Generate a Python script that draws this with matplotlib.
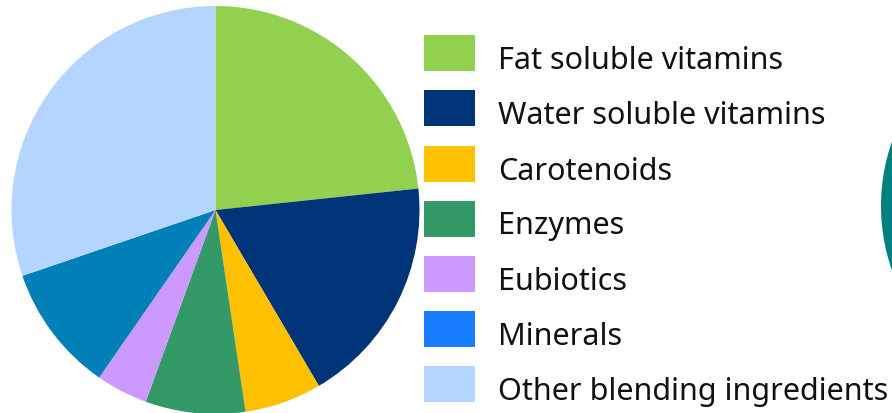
import matplotlib
matplotlib.use("Agg")
import matplotlib.pyplot as plt
from matplotlib.patches import Rectangle

categories = ["Fat soluble vitamins", "Water soluble vitamins", "Carotenoids",
              "Enzymes", "Eubiotics", "Minerals", "Other blending ingredients"]
values = [23.3, 18.2, 6.1, 7.9, 4.1, 10.1, 30.2]
slice_colors = ["#92D050", "#003478", "#FFC000", "#339966", "#CC99FF", "#0080B6", "#B3D5FF"]
legend_colors = ["#92D050", "#003478", "#FFC000", "#339966", "#CC99FF", "#187DFF", "#B3D5FF"]

W, H = 892, 414
fig = plt.figure(figsize=(W / 100, H / 100), dpi=100)
ax = fig.add_axes([0, 0, 1, 1])

# main pie (pixel coordinates, y measured upward)
ax.pie(values, colors=slice_colors, startangle=90, counterclock=False,
       center=(215.5, H - 211), radius=204, frame=True,
       wedgeprops=dict(linewidth=0))

# partially visible second pie at right edge
ax.pie([1], colors=["#008080"], center=(1076, H - 207), radius=195, frame=True,
       wedgeprops=dict(linewidth=0))

ax.set_xlim(0, W)
ax.set_ylim(0, H)
ax.set_aspect("auto")
ax.axis("off")

# legend
tops = [36, 91, 146.5, 201.5, 256.7, 312, 366.7]
for i, (lab, col) in enumerate(zip(categories, legend_colors)):
    top = tops[i]
    ax.add_patch(Rectangle((423.5, H - top - 36), 51, 36, facecolor=col,
                           edgecolor="none"))
    ax.text(498, H - (top + 33), lab, fontsize=22, family="Noto Sans",
            color="#111111", va="baseline", ha="left")

fig.savefig("out.png", dpi=100)
